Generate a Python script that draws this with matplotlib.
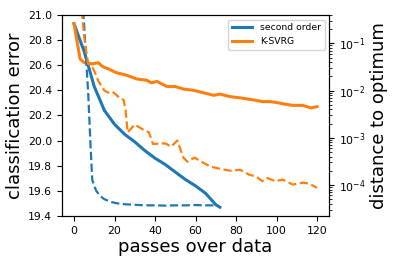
import numpy as np
import matplotlib
matplotlib.use("Agg")
import matplotlib.pyplot as plt

# classification error (left axis)
so_x = [0, 5, 10, 15, 20, 25, 30, 35, 40, 45, 50, 55, 60, 65, 70, 72]
so_err = [20.93, 20.71, 20.43, 20.24, 20.13, 20.05, 19.99, 19.92, 19.86, 19.81,
          19.75, 19.69, 19.64, 19.58, 19.49, 19.47]

ks_x = [0, 3, 5, 9, 12, 14, 17, 21, 26, 31, 36, 38, 41, 46, 50, 54, 59, 64, 69,
        72, 77, 82, 86, 90, 93, 97, 101, 104, 108, 113, 117, 120]
ks_err = [20.93, 20.65, 20.62, 20.61, 20.62, 20.59, 20.57, 20.54, 20.52, 20.49,
          20.48, 20.46, 20.47, 20.43, 20.43, 20.41, 20.40, 20.38, 20.36, 20.37,
          20.35, 20.34, 20.33, 20.32, 20.31, 20.31, 20.30, 20.29, 20.28, 20.28,
          20.26, 20.27]

# distance to optimum (right axis)
so_dx = [3, 5, 6, 7, 7.5, 8, 8.5, 9, 10, 11, 13, 15, 18, 21, 25, 30, 35, 40, 45,
         50, 55, 60, 65, 70]
so_dist = [5.0, 0.25, 0.045, 0.009, 3e-3, 1e-3, 3.5e-4, 1.3e-4, 9.5e-5, 7.5e-5,
           5.8e-5, 5e-5, 4.4e-5, 4.1e-5, 3.9e-5, 3.8e-5, 3.7e-5, 3.7e-5,
           3.65e-5, 3.7e-5, 3.7e-5, 3.75e-5, 3.7e-5, 3.7e-5]

ks_dx = [3, 5.4, 7, 9.5, 12, 15, 17, 19, 22.5, 24.5, 25.5, 26.5, 30, 34, 37, 39,
         45, 48, 51, 54, 56, 59.5, 63.5, 67.5, 71, 77, 82, 86.5, 90, 93, 95.5,
         99.5, 103, 108, 113, 116, 120]
ks_dist = [1.0, 0.1, 0.037, 0.029, 0.016, 0.010, 0.009, 0.0095, 0.007, 0.0063,
           0.0037, 0.0013, 0.0019, 0.0015, 0.0013, 7.4e-4, 7.6e-4, 6.5e-4,
           8.7e-4, 3.8e-4, 3.1e-4, 3.8e-4, 3.0e-4, 2.45e-4, 2.25e-4, 2.0e-4,
           2.1e-4, 1.65e-4, 1.5e-4, 1.2e-4, 1.4e-4, 1.2e-4, 1.3e-4, 1.02e-4,
           1.12e-4, 1.07e-4, 8.7e-5]

fig = plt.figure(figsize=(3.99, 2.66), dpi=100)
ax = fig.add_axes([0.155, 0.188, 0.67, 0.756])
ax2 = ax.twinx()

lw = 2.2
ax.plot(so_x, so_err, color='#1f77b4', lw=lw, label='second order')
ax.plot(ks_x, ks_err, color='#ff7f0e', lw=lw, label='K-SVRG')
ax2.plot(so_dx, so_dist, color='#1f77b4', lw=1.6, ls='--')
ax2.plot(ks_dx, ks_dist, color='#ff7f0e', lw=1.6, ls='--')

ax.set_xlim(-6, 126)
ax.set_ylim(19.4, 21.0)
ax.set_xticks([0, 20, 40, 60, 80, 100, 120])
ax.set_yticks([19.4, 19.6, 19.8, 20.0, 20.2, 20.4, 20.6, 20.8, 21.0])
ax2.set_yscale('log')
ax2.set_ylim(2.2e-5, 0.4)

ax.tick_params(labelsize=7.8, length=3.5)
ax2.tick_params(labelsize=7.8, length=3.5)
ax2.tick_params(which='minor', length=2)

ax.set_xlabel('passes over data', fontsize=13, labelpad=2)
ax.set_ylabel('classification error', fontsize=13, labelpad=3)
ax2.set_ylabel('distance to optimum', fontsize=13, labelpad=3)

ax.legend(loc='upper right', fontsize=6.7, handlelength=2.2)

fig.savefig('out.png', dpi=100)
